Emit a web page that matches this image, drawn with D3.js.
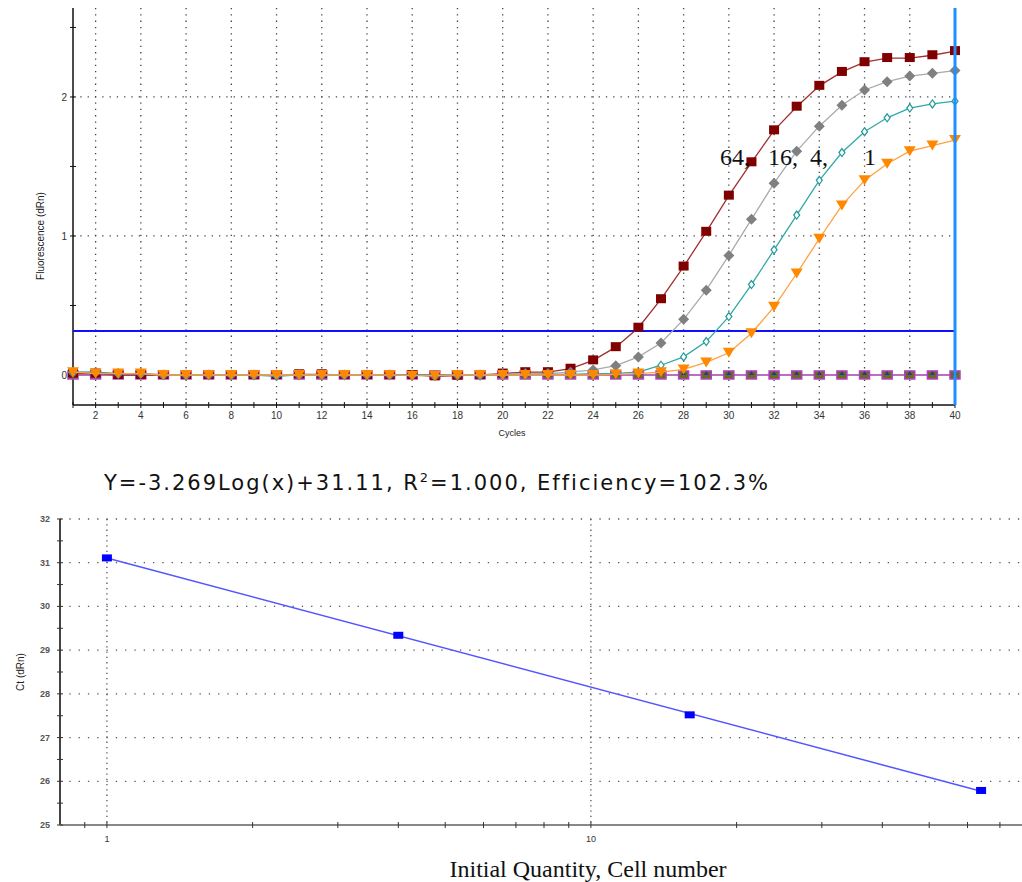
<!DOCTYPE html>
<html lang="en">

<head>
    <meta charset="UTF-8">
    <title>qPCR amplification and standard curve</title>
    <script src="https://d3js.org/d3.v7.min.js"></script>
    <style>
        body { margin: 0; background: #fff; }
        svg { display: block; }
        .tick-label { font-family: "Liberation Sans", Arial, sans-serif; font-size: 10px; fill: #333; }
        .axis-title { font-family: "Liberation Sans", Arial, sans-serif; font-size: 10px; fill: #222; }
        .serif { font-family: "Liberation Serif", "Times New Roman", serif; fill: #111; }
    </style>
</head>

<body>
    <div id="chart"></div>
    <script>
        // amplification data: cycles 1..40
        const cycles = d3.range(1, 41);

        const cells64 = [0.01, 0.01, 0.0, 0.0, 0.0, 0.0, 0.0, 0.0, 0.0, 0.0, 0.005, 0.005, 0.0, 0.0, 0.0, 0.0, -0.01, -0.005, 0.0, 0.01, 0.02,
            0.02, 0.045, 0.105, 0.2, 0.34, 0.545, 0.78, 1.03, 1.29, 1.53, 1.76, 1.93, 2.08, 2.18, 2.25, 2.28, 2.28, 2.30, 2.33];
        const cells16 = [0.02, 0.02, 0.01, 0.01, 0.0, 0.0, 0.0, 0.0, 0.0, 0.0, 0.0, 0.0, 0.0, 0.0, 0.0, 0.0, -0.005, 0.0, 0.0, 0.005, 0.01,
            0.01, 0.02, 0.036, 0.067, 0.13, 0.23, 0.40, 0.61, 0.86, 1.12, 1.38, 1.61, 1.79, 1.94, 2.05, 2.11, 2.15, 2.17, 2.19];
        const cells4 = [0.02, 0.02, 0.01, 0.01, 0.0, 0.0, 0.0, 0.0, 0.0, -0.01, 0.0, 0.0, 0.0, 0.0, 0.0, 0.0, 0.0, 0.0, -0.005, 0.0, 0.0,
            0.005, 0.005, 0.01, 0.012, 0.02, 0.07, 0.13, 0.24, 0.42, 0.65, 0.90, 1.15, 1.40, 1.60, 1.75, 1.85, 1.92, 1.95, 1.97];
        const cells1 = [0.02, 0.01, 0.01, 0.01, 0.0, 0.0, 0.0, 0.0, 0.0, 0.0, 0.0, 0.0, 0.0, 0.0, 0.0, -0.005, -0.005, 0.0, 0.0, 0.0, 0.0,
            0.0, 0.0, 0.0, 0.005, 0.01, 0.02, 0.04, 0.09, 0.16, 0.30, 0.49, 0.73, 0.98, 1.22, 1.40, 1.52, 1.61, 1.65, 1.69];
        const ntc = cycles.map(() => 0.0);

        const threshold = 0.316;
        const sampleLabel = "64,   16,  4,      1";

        // standard curve data
        const quantity = [1, 4, 16, 64];
        const ctValues = [31.11, 29.34, 27.52, 25.79];
        const equationParts = ["Y=-3.269Log(x)+31.11, R", "2", "=1.000, Efficiency=102.3%"];

        const W = 1022, H = 882;
        const svg = d3.select("#chart").append("svg")
            .attr("width", W)
            .attr("height", H);

        // ---------- top: amplification plot ----------
        const x = d3.scaleLinear().domain([1, 40]).range([73, 955]);
        const y = d3.scaleLinear().domain([-0.216, 2.64]).range([405, 8]);
        const amp = svg.append("g");

        // dotted grid
        amp.selectAll(".vgrid")
            .data(d3.range(2, 40, 2))
            .enter().append("line")
            .attr("x1", d => x(d)).attr("x2", d => x(d))
            .attr("y1", y.range()[1]).attr("y2", y.range()[0])
            .attr("stroke", "#444").attr("stroke-width", 1.3)
            .attr("stroke-dasharray", "1.3,5");
        amp.selectAll(".hgrid")
            .data([1, 2])
            .enter().append("line")
            .attr("x1", x(1)).attr("x2", x(40))
            .attr("y1", d => y(d)).attr("y2", d => y(d))
            .attr("stroke", "#444").attr("stroke-width", 1.3)
            .attr("stroke-dasharray", "1.3,6");

        // axes
        amp.append("line")
            .attr("x1", x(1)).attr("x2", x(1))
            .attr("y1", y.range()[1]).attr("y2", y.range()[0])
            .attr("stroke", "#111").attr("stroke-width", 1.5);
        amp.append("line")
            .attr("x1", x(1)).attr("x2", x(40))
            .attr("y1", y.range()[0]).attr("y2", y.range()[0])
            .attr("stroke", "#111").attr("stroke-width", 1.5);

        amp.selectAll(".xtick")
            .data(cycles)
            .enter().append("line")
            .attr("x1", d => x(d)).attr("x2", d => x(d))
            .attr("y1", y.range()[0] - 3).attr("y2", y.range()[0] + 3)
            .attr("stroke", "#111");
        amp.selectAll(".xlabel")
            .data(cycles.filter(d => d % 2 === 0))
            .enter().append("text")
            .attr("class", "tick-label")
            .attr("x", d => x(d)).attr("y", 419)
            .attr("text-anchor", "middle")
            .text(d => d);

        amp.selectAll(".ytick")
            .data([0, 0.5, 1, 1.5, 2, 2.5])
            .enter().append("line")
            .attr("x1", x(1) - 3).attr("x2", x(1) + 3)
            .attr("y1", d => y(d)).attr("y2", d => y(d))
            .attr("stroke", "#111");
        amp.selectAll(".ylabel")
            .data([0, 1, 2])
            .enter().append("text")
            .attr("class", "tick-label")
            .attr("x", 67).attr("y", d => y(d) + 4)
            .attr("text-anchor", "end")
            .text(d => d);

        amp.append("text")
            .attr("class", "axis-title")
            .attr("transform", `translate(44,${y(1)}) rotate(-90)`)
            .attr("text-anchor", "middle")
            .text("Fluorescence (dRn)");
        amp.append("text")
            .attr("class", "axis-title")
            .attr("x", 512).attr("y", 436)
            .attr("text-anchor", "middle")
            .style("font-size", "9px")
            .text("Cycles");

        // threshold + end marker
        amp.append("line")
            .attr("x1", x(1)).attr("x2", x(40))
            .attr("y1", y(threshold)).attr("y2", y(threshold))
            .attr("stroke", "#1010ff").attr("stroke-width", 2);

        const series = [
            { name: "ntc", values: ntc, line: "#a040b0", shape: "ntc" },
            { name: "64", values: cells64, line: "#a03030", fill: "#800000", shape: "square" },
            { name: "16", values: cells16, line: "#aaaaaa", fill: "#808080", shape: "diamond" },
            { name: "4", values: cells4, line: "#30a8a8", fill: "#ffffff", stroke: "#209898", shape: "circle" },
            { name: "1", values: cells1, line: "#ffa040", fill: "#ff8800", shape: "triangle" }
        ];

        const lineGen = d3.line()
            .x((d, i) => x(cycles[i]))
            .y(d => y(d));

        series.forEach(s => {
            const g = amp.append("g");
            g.append("path")
                .attr("d", lineGen(s.values))
                .attr("fill", "none")
                .attr("stroke", s.line)
                .attr("stroke-width", 1.3);

            const pts = g.selectAll(".pt")
                .data(s.values)
                .enter().append("g")
                .attr("transform", (d, i) => `translate(${x(cycles[i])},${y(d)})`);

            if (s.shape === "square") {
                pts.append("rect")
                    .attr("x", -5).attr("y", -5).attr("width", 10).attr("height", 9)
                    .attr("fill", s.fill);
            } else if (s.shape === "diamond") {
                pts.append("path")
                    .attr("d", "M0,-5.5L5.5,0L0,5.5L-5.5,0Z")
                    .attr("fill", s.fill);
            } else if (s.shape === "circle") {
                pts.append("path")
                    .attr("d", "M0,-4L3,0L0,4L-3,0Z")
                    .attr("fill", s.fill)
                    .attr("stroke", s.stroke).attr("stroke-width", 1.2);
            } else if (s.shape === "triangle") {
                pts.append("path")
                    .attr("d", "M-6,-5L6,-5L0,5Z")
                    .attr("fill", s.fill);
            } else {
                pts.append("rect")
                    .attr("x", -5).attr("y", -4).attr("width", 10).attr("height", 8)
                    .attr("fill", "#6b6b20")
                    .attr("stroke", "#b040c0").attr("stroke-width", 1.5);
                pts.append("path")
                    .attr("d", "M-2.5,0L2.5,0L0,-4Z")
                    .attr("fill", "#3030a0");
            }
        });

        // end-of-run marker drawn over the last points
        amp.append("line")
            .attr("x1", x(40)).attr("x2", x(40))
            .attr("y1", y.range()[1]).attr("y2", y.range()[0])
            .attr("stroke", "#1e90ff").attr("stroke-width", 3);

        amp.append("text")
            .attr("class", "serif")
            .attr("x", 720).attr("y", 165)
            .style("font-size", "24px")
            .style("white-space", "pre")
            .attr("xml:space", "preserve")
            .text(sampleLabel);

        // ---------- bottom: standard curve ----------
        const xs = d3.scaleLog().domain([0.8, 80]).range([60, 60 + 484 * 2]);
        const ys = d3.scaleLinear().domain([25, 32]).range([825, 519]);
        const bot = svg.append("g");

        const eq = bot.append("text")
            .attr("x", 104).attr("y", 490)
            .attr("textLength", 664)
            .attr("lengthAdjust", "spacing")
            .style("font-family", "'DejaVu Sans', Verdana, sans-serif")
            .style("font-size", "21px")
            .style("font-variant-ligatures", "none")
            .style("fill", "#111");
        eq.append("tspan").text(equationParts[0]);
        eq.append("tspan").attr("dy", -8).style("font-size", "13px").text(equationParts[1]);
        eq.append("tspan").attr("dy", 8).text(equationParts[2]);

        bot.selectAll(".hgrid")
            .data(d3.range(26, 33))
            .enter().append("line")
            .attr("x1", xs(0.8)).attr("x2", W)
            .attr("y1", d => ys(d)).attr("y2", d => ys(d))
            .attr("stroke", "#555").attr("stroke-width", 1.3)
            .attr("stroke-dasharray", "1.3,8");
        bot.selectAll(".vgrid")
            .data([1, 10])
            .enter().append("line")
            .attr("x1", d => xs(d)).attr("x2", d => xs(d))
            .attr("y1", ys(32)).attr("y2", ys(25))
            .attr("stroke", "#555").attr("stroke-width", 1.3)
            .attr("stroke-dasharray", "1.3,4");

        bot.append("line")
            .attr("x1", xs(0.8)).attr("x2", xs(0.8))
            .attr("y1", ys(32)).attr("y2", ys(25))
            .attr("stroke", "#444").attr("stroke-width", 2);
        bot.append("line")
            .attr("x1", xs(0.8)).attr("x2", W)
            .attr("y1", ys(25)).attr("y2", ys(25))
            .attr("stroke", "#888").attr("stroke-width", 2);

        bot.selectAll(".ytick")
            .data(d3.range(25, 32.5, 0.5))
            .enter().append("line")
            .attr("x1", xs(0.8) - 3).attr("x2", xs(0.8) + 3)
            .attr("y1", d => ys(d)).attr("y2", d => ys(d))
            .attr("stroke", "#333");
        bot.selectAll(".ylabel")
            .data(d3.range(25, 33))
            .enter().append("text")
            .attr("class", "tick-label")
            .attr("x", 50).attr("y", d => ys(d) + 3)
            .attr("text-anchor", "end")
            .style("font-size", "9px")
            .style("font-weight", "bold")
            .style("fill", "#555")
            .text(d => d);

        const logTicks = [0.9].concat(d3.range(1, 10), d3.range(10, 90, 10));
        bot.selectAll(".xtick")
            .data(logTicks)
            .enter().append("line")
            .attr("x1", d => xs(d)).attr("x2", d => xs(d))
            .attr("y1", ys(25) - 3).attr("y2", ys(25) + 3)
            .attr("stroke", "#333");
        bot.selectAll(".xlabel")
            .data([1, 10])
            .enter().append("text")
            .attr("class", "tick-label")
            .attr("x", d => xs(d)).attr("y", 842)
            .attr("text-anchor", "middle")
            .style("font-size", "9px")
            .text(d => d);

        bot.append("text")
            .attr("class", "axis-title")
            .attr("transform", `translate(24,${ys(28.5)}) rotate(-90)`)
            .attr("text-anchor", "middle")
            .text("Ct (dRn)");

        bot.append("text")
            .attr("class", "serif")
            .attr("x", 588).attr("y", 877)
            .attr("text-anchor", "middle")
            .style("font-size", "24px")
            .text("Initial Quantity, Cell number");

        // least squares fit of Ct against log10(quantity)
        const lx = quantity.map(q => Math.log10(q));
        const mx = d3.mean(lx), my = d3.mean(ctValues);
        const slope = d3.sum(lx, (v, i) => (v - mx) * (ctValues[i] - my)) / d3.sum(lx, v => (v - mx) * (v - mx));
        const icpt = my - slope * mx;
        const qEnds = d3.extent(quantity);

        bot.append("line")
            .attr("x1", xs(qEnds[0])).attr("y1", ys(icpt + slope * Math.log10(qEnds[0])))
            .attr("x2", xs(qEnds[1])).attr("y2", ys(icpt + slope * Math.log10(qEnds[1])))
            .attr("stroke", "#5555ff").attr("stroke-width", 1.5);

        bot.selectAll(".std")
            .data(quantity)
            .enter().append("rect")
            .attr("x", d => xs(d) - 5)
            .attr("y", (d, i) => ys(ctValues[i]) - 3.5)
            .attr("width", 10).attr("height", 7)
            .attr("fill", "#0000ff");
    </script>
</body>

</html>
